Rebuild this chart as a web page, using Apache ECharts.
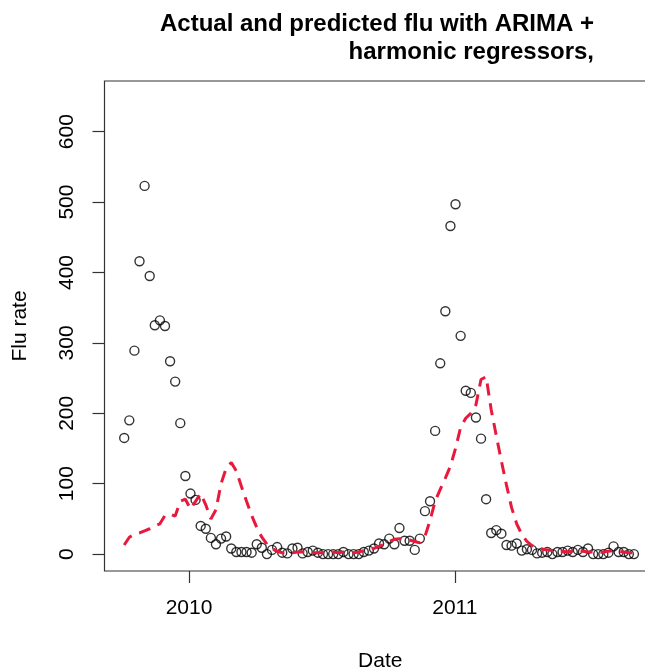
<!DOCTYPE html>
<html>
<head>
<meta charset="utf-8">
<script src="https://cdn.jsdelivr.net/npm/echarts@6/dist/echarts.min.js"></script>
<style>
html,body{margin:0;padding:0;background:#fff;}
#chart{width:645px;height:671px;}
</style>
</head>
<body>
<div id="chart"></div>
<script>
// Weekly observations starting at this date
const startDate = '2009-10-04';
// Actual flu rate (points)
const actual = [165,190,289,416,523,395,325,332,324,274,245,186,111,86,77,40,36,23,14,22,
  25,8,3,3,3,2,14,9,0,6,10,2,1,8,9,1,3,5,2,0,
  0,0,0,3,0,0,0,3,5,8,15,14,22,14,37,19,19,6,22,61,
  75,175,271,345,466,497,310,232,229,194,164,78,30,34,29,13,12,15,5,7,
  6,1,2,3,0,3,3,5,3,6,3,8,0,0,0,2,11,3,3,0,0];
// Predicted flu rate (dashed line)
const predicted = [13,24,28,30,33,36,40,43,55,57,54,75,78,64,75,86,70,50,63,100,
  122,130,118,96,75,55,38,24,14,8,4,2,2,2,3,3,2,2,2,2,
  3,3,2,3,3,2,3,5,6,8,11,14,18,21,22,21,20,18,16,25,
  48,75,92,108,125,150,180,193,200,212,248,252,205,168,132,98,66,43,28,18,
  12,9,7,6,5,4,4,3,4,5,4,3,3,2,3,4,5,4,3,2,2];
const xTicks = [2010, 2011];
const yTicks = [0, 100, 200, 300, 400, 500, 600];
const titleLine1 = 'Actual and predicted flu with ARIMA +';
const titleLine2 = 'harmonic regressors,';

function decYear(d) {
  const y = d.getUTCFullYear();
  const s = Date.UTC(y, 0, 1), e = Date.UTC(y + 1, 0, 1);
  return y + (d.getTime() - s) / (e - s);
}
const t0 = new Date(startDate + 'T00:00:00Z').getTime();
const xs = actual.map((_, i) => decYear(new Date(t0 + i * 7 * 86400000)));
const actData = actual.map((v, i) => [xs[i], v]);
const predData = predicted.map((v, i) => [xs[i], v]);

const FONT = '"Liberation Sans", Arial, Helvetica, sans-serif';
const chart = echarts.init(document.getElementById('chart'), null, {renderer: 'canvas'});
chart.setOption({
  animation: false,
  backgroundColor: '#fff',
  textStyle: {fontFamily: FONT},
  title: [
    {text: titleLine1, right: 51, top: 12, padding: 0,
     textStyle: {fontFamily: FONT, fontSize: 24, fontWeight: 'bold', color: '#000'}},
    {text: titleLine2, right: 51, top: 40, padding: 0,
     textStyle: {fontFamily: FONT, fontSize: 24, fontWeight: 'bold', color: '#000'}}
  ],
  grid: {left: 104.5, top: 81, width: 551.5, height: 490, show: true,
         outerBoundsMode: 'none', containLabel: false,
         borderColor: '#333', borderWidth: 1.2, backgroundColor: 'transparent'},
  xAxis: {
    type: 'value', min: 2009.682, max: 2011.757,
    name: 'Date', nameLocation: 'middle', nameGap: 80,
    nameTextStyle: {fontFamily: FONT, fontSize: 21, color: '#000'},
    axisLine: {show: false, onZero: false},
    splitLine: {show: false},
    axisTick: {show: true, length: 12, customValues: xTicks, lineStyle: {color: '#333', width: 1.2}},
    axisLabel: {customValues: xTicks, margin: 27, fontFamily: FONT, fontSize: 21, color: '#000',
                formatter: v => String(Math.round(v))}
  },
  yAxis: {
    type: 'value', min: -24, max: 672,
    name: 'Flu rate', nameLocation: 'middle', nameRotate: 90, nameGap: 74,
    nameTextStyle: {fontFamily: FONT, fontSize: 21, color: '#000'},
    axisLine: {show: false, onZero: false},
    splitLine: {show: false},
    axisTick: {show: true, length: 12, customValues: yTicks, lineStyle: {color: '#333', width: 1.2}},
    axisLabel: {customValues: yTicks, rotate: 90, margin: 27, fontFamily: FONT, fontSize: 21, color: '#000'}
  },
  series: [
    {type: 'scatter', data: actData, symbol: 'circle', symbolSize: 9, z: 2,
     itemStyle: {color: 'rgba(0,0,0,0)', borderColor: '#000', borderWidth: 1.4}},
    {type: 'line', data: predData, showSymbol: false, symbol: 'none', z: 3,
     lineStyle: {color: '#e8193c', width: 3, type: [12, 8]}}
  ]
});
</script>
</body>
</html>
